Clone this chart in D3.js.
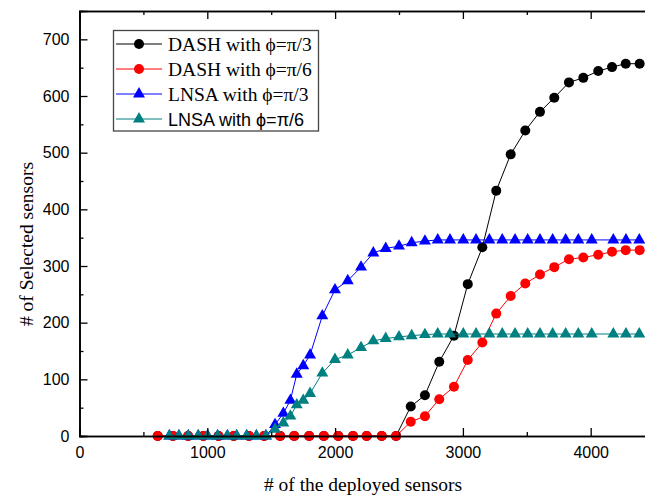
<!DOCTYPE html>
<html>
<head>
<meta charset="utf-8">
<script src="https://cdn.jsdelivr.net/npm/d3@7"></script>
<style>
  html, body { margin: 0; padding: 0; background: #fff; }
  svg { display: block; }
</style>
</head>
<body>
<svg id="chart" width="645" height="495"></svg>
<script>
// ---------------- data ----------------
const dashX = [612, 731, 850, 969, 1088, 1207, 1326, 1445, 1570, 1680, 1797, 1912, 2025, 2140, 2247, 2365, 2477,
               2592, 2703, 2815, 2930, 3038, 3152, 3261, 3374, 3488, 3603, 3715, 3830, 3942, 4059, 4167, 4274, 4383];
const dashPi3 = [0, 0, 0, 0, 0, 0, 0, 0, 0, 0, 0, 0, 0, 0, 0, 0, 0,
                 52, 72, 131, 177, 268, 333, 433, 497, 539, 572, 597, 624, 632, 644, 651, 657, 657];
const dashPi6 = [0, 0, 0, 0, 0, 0, 0, 0, 0, 0, 0, 0, 0, 0, 0, 0, 0,
                 25, 35, 65, 87, 134, 165, 216, 247, 269, 285, 298, 312, 315, 320, 325, 328, 328];

const lnsaX = [703, 778, 851, 929, 1003, 1081, 1157, 1230, 1308, 1384, 1459, 1530, 1595, 1650, 1700, 1751, 1804,
               1900, 1999, 2099, 2203, 2299, 2396, 2500, 2599, 2703, 2803, 2899, 3003, 3103, 3207, 3308, 3408,
               3507, 3603, 3702, 3804, 3903, 4008, 4177, 4276, 4380];
const lnsaPi3 = [0, 0, 0, 0, 0, 0, 0, 0, 0, 0, 0, 20, 40, 63, 109, 124, 143,
                 212, 258, 274, 298, 323, 331, 335, 341, 344, 346, 346, 346, 346, 346, 346, 346,
                 346, 346, 346, 346, 346, 346, 346, 346, 346];
const lnsaPi6 = [0, 0, 0, 0, 0, 0, 0, 0, 0, 0, 0, 12, 23, 35, 55, 63, 75,
                 111, 135, 143, 156, 168, 172, 175, 177, 179, 180, 180, 180, 180, 180, 180, 180,
                 180, 180, 180, 180, 180, 180, 180, 180, 180];

const xTicks = [0, 1000, 2000, 3000, 4000];
const yTicks = [0, 100, 200, 300, 400, 500, 600, 700];
const seriesNames = ["DASH with \u03D5=\u03C0/3", "DASH with \u03D5=\u03C0/6", "LNSA with \u03D5=\u03C0/3", "LNSA with \u03D5=\u03C0/6"];

// ---------------- layout ----------------
const svg = d3.select("#chart");
const mLeft = 79.5, mRight = 654.6, mTop = 11, mBottom = 436;
const x = d3.scaleLinear().domain([0, 4500]).range([mLeft, mRight]);
const y = d3.scaleLinear().domain([0, 750]).range([mBottom, mTop]);

const series = [
  { name: seriesNames[0], xs: dashX, ys: dashPi3, color: "#000000", shape: "circle" },
  { name: seriesNames[1], xs: dashX, ys: dashPi6, color: "#ff0000", shape: "circle" },
  { name: seriesNames[2], xs: lnsaX, ys: lnsaPi3, color: "#0000ff", shape: "triangle" },
  { name: seriesNames[3], xs: lnsaX, ys: lnsaPi6, color: "#008080", shape: "triangle" }
];

const triSym = d3.symbol().type(d3.symbolTriangle).size(62);

function drawMarker(g, shape, color, cx, cy) {
  if (shape === "circle") {
    g.append("circle").attr("cx", cx).attr("cy", cy).attr("r", 5).attr("fill", color);
  } else {
    g.append("path").attr("d", triSym()).attr("transform", `translate(${cx},${cy})`).attr("fill", color);
  }
}

// series
const plot = svg.append("g");
series.forEach(s => {
  const pts = s.xs.map((v, i) => [v, s.ys[i]]);
  const line = d3.line().x(d => x(d[0])).y(d => y(d[1]));
  plot.append("path").datum(pts).attr("d", line).attr("fill", "none")
      .attr("stroke", s.color).attr("stroke-width", 1);
  const mg = plot.append("g");
  pts.forEach(p => drawMarker(mg, s.shape, s.color, x(p[0]), y(p[1])));
});

// axes
const axisFont = "'Liberation Sans', Arial, sans-serif";
const serif = "'Liberation Serif', 'Times New Roman', serif";
const minorX = [500, 1500, 2500, 3500, 4500];
const minorY = [50, 150, 250, 350, 450, 550, 650];

const xAxis = svg.append("g").attr("transform", `translate(0,${mBottom})`)
  .call(d3.axisBottom(x).tickValues(xTicks).tickSize(-8).tickPadding(11).tickFormat(d3.format("d")));
const xMinor = svg.append("g").attr("transform", `translate(0,${mBottom})`)
  .call(d3.axisBottom(x).tickValues(minorX).tickSize(-4).tickFormat(""));
const xTop = svg.append("g").attr("transform", `translate(0,${mTop})`)
  .call(d3.axisTop(x).tickValues(xTicks).tickSize(-8).tickFormat(""));
const xTopMinor = svg.append("g").attr("transform", `translate(0,${mTop})`)
  .call(d3.axisTop(x).tickValues(minorX).tickSize(-4).tickFormat(""));
const yAxis = svg.append("g").attr("transform", `translate(${mLeft},0)`)
  .call(d3.axisLeft(y).tickValues(yTicks).tickSize(-8).tickPadding(10).tickFormat(d3.format("d")));
const yMinor = svg.append("g").attr("transform", `translate(${mLeft},0)`)
  .call(d3.axisLeft(y).tickValues(minorY).tickSize(-4).tickFormat(""));

[xAxis, xMinor, xTop, xTopMinor, yAxis, yMinor].forEach(g => {
  g.selectAll(".domain").attr("stroke", "#000").attr("stroke-width", 1.6);
  g.selectAll(".tick line").attr("stroke", "#000").attr("stroke-width", 1.3);
  g.selectAll("text").attr("font-family", axisFont).attr("font-size", 16).attr("fill", "#000");
});

// axis titles
svg.append("text").attr("x", 363).attr("y", 491).attr("text-anchor", "middle")
  .attr("font-family", serif).attr("font-size", 19.5).attr("fill", "#000")
  .text("# of the deployed sensors");
svg.append("text").attr("transform", "translate(33,244) rotate(-90)").attr("text-anchor", "middle")
  .attr("font-family", serif).attr("font-size", 19.5).attr("fill", "#000")
  .text("# of Selected sensors");

// legend
const lg = svg.append("g");
lg.append("rect").attr("x", 113.5).attr("y", 30.5).attr("width", 205).attr("height", 100.5)
  .attr("fill", "#fff").attr("stroke", "#444").attr("stroke-width", 1.3);
series.forEach((s, i) => {
  const cy = 44 + i * 25;
  lg.append("line").attr("x1", 116).attr("x2", 162).attr("y1", cy).attr("y2", cy)
    .attr("stroke", s.color).attr("stroke-width", 1);
  drawMarker(lg, s.shape, s.color, 139, cy);
  lg.append("text").attr("x", 168).attr("y", cy + 6.5)
    .attr("font-family", i === 3 ? axisFont : serif)
    .attr("font-size", i === 3 ? 18 : 19.5).attr("fill", "#000")
    .text(s.name);
});
</script>
</body>
</html>
